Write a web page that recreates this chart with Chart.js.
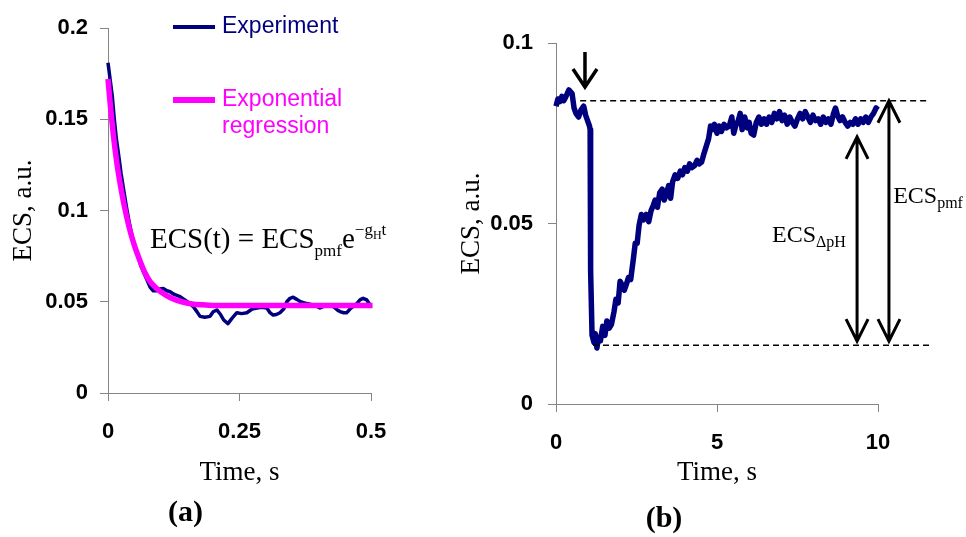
<!DOCTYPE html>
<html>
<head>
<meta charset="utf-8">
<script src="https://cdn.jsdelivr.net/npm/chart.js@4.4.1/dist/chart.umd.min.js"></script>
<style>
  html, body { margin: 0; padding: 0; background: #fff; }
  #wrap { position: relative; width: 966px; height: 537px; }
  canvas { position: absolute; top: 0; }
  #chartA { left: 0; }
  #chartB { left: 450px; }
</style>
</head>
<body>
<div id="wrap">
  <canvas id="chartA" width="450" height="537"></canvas>
  <canvas id="chartB" width="516" height="537"></canvas>
</div>
<script>
// ---- panel (a): fast ECS decay, experiment + exponential fit ----
const timeA = [0, 0.004, 0.008, 0.012, 0.016, 0.02, 0.025, 0.03, 0.035, 0.04,
  0.045, 0.05, 0.056, 0.062, 0.068, 0.074, 0.08, 0.086, 0.092, 0.098,
  0.105, 0.112, 0.118, 0.126, 0.137, 0.146, 0.156, 0.163, 0.169, 0.175,
  0.184, 0.194, 0.2, 0.207, 0.214, 0.22, 0.228, 0.236, 0.245, 0.254,
  0.264, 0.274, 0.283, 0.292, 0.302, 0.308, 0.314, 0.32, 0.327, 0.334,
  0.34, 0.346, 0.352, 0.359, 0.366, 0.372, 0.378, 0.386, 0.394, 0.403,
  0.41, 0.416, 0.422, 0.43, 0.436, 0.441, 0.448, 0.454, 0.46, 0.466,
  0.473, 0.479, 0.485, 0.492, 0.498, 0.5];
const expA = [0.181, 0.172, 0.163, 0.150, 0.139, 0.131, 0.120, 0.111, 0.102, 0.094,
  0.087, 0.081, 0.076, 0.070, 0.066, 0.062, 0.058, 0.056, 0.056, 0.057,
  0.0573, 0.056, 0.0555, 0.054, 0.0528, 0.051, 0.049, 0.047, 0.0446, 0.042,
  0.0415, 0.042, 0.0445, 0.0455, 0.043, 0.040, 0.038, 0.041, 0.044, 0.0435,
  0.044, 0.046, 0.0466, 0.047, 0.0466, 0.044, 0.0427, 0.043, 0.044, 0.046,
  0.050, 0.0519, 0.0525, 0.0513, 0.050, 0.0495, 0.049, 0.0485, 0.048, 0.0466,
  0.0475, 0.0484, 0.0484, 0.047, 0.0455, 0.0446, 0.044, 0.044, 0.046, 0.0475,
  0.049, 0.051, 0.0519, 0.051, 0.0484, 0.048];
const fitTimeA = [0, 0.005, 0.01, 0.015, 0.02, 0.03, 0.04, 0.05, 0.06, 0.07,
  0.08, 0.09, 0.1, 0.12, 0.14, 0.16, 0.18, 0.2, 0.25, 0.3, 0.35, 0.4, 0.45, 0.503];
const fitA = [0.172, 0.156, 0.142, 0.130, 0.120, 0.104, 0.091, 0.081, 0.073, 0.066,
  0.061, 0.058, 0.0555, 0.052, 0.050, 0.0488, 0.0483, 0.048, 0.048, 0.048, 0.048, 0.048, 0.048, 0.048];
const xTicksA = [0, 0.25, 0.5];
const yTicksA = [0, 0.05, 0.1, 0.15, 0.2];

// ---- panel (b): ECS relaxation after light-off ----
const timeB = [0, 0.06, 0.12, 0.18, 0.24, 0.30, 0.40, 0.50, 0.56, 0.62,
  0.70, 0.78, 0.86, 0.92, 0.98, 1.04, 1.06, 1.07, 1.08, 1.12,
  1.18, 1.22, 1.27, 1.32, 1.38, 1.45, 1.52, 1.58, 1.65, 1.72,
  1.80, 1.86, 1.93, 1.99, 2.05, 2.12, 2.18, 2.25, 2.32, 2.40,
  2.46, 2.52, 2.58, 2.65, 2.72, 2.80, 2.88, 2.95, 3.02, 3.08,
  3.15, 3.22, 3.30, 3.36, 3.42, 3.50, 3.56, 3.62, 3.70, 3.78,
  3.86, 3.93, 4.00, 4.08, 4.15, 4.22, 4.30, 4.38, 4.45, 4.52,
  4.60, 4.67, 4.74, 4.80, 4.86, 4.92, 5.00, 5.06, 5.14, 5.22,
  5.30, 5.38, 5.46, 5.52, 5.58, 5.66, 5.72, 5.78, 5.86, 5.94,
  6.00, 6.06, 6.14, 6.22, 6.30, 6.38, 6.46, 6.54, 6.62, 6.70,
  6.78, 6.86, 6.94, 7.02, 7.10, 7.18, 7.26, 7.34, 7.42, 7.50,
  7.58, 7.66, 7.74, 7.82, 7.90, 7.98, 8.06, 8.14, 8.22, 8.30,
  8.38, 8.46, 8.54, 8.62, 8.68, 8.74, 8.82, 8.90, 8.98, 9.06,
  9.14, 9.22, 9.30, 9.38, 9.46, 9.54, 9.62, 9.70, 9.78, 9.86,
  9.94, 10.0];
const expB = [0.0825, 0.0845, 0.0838, 0.0852, 0.0840, 0.0850, 0.0870, 0.0860, 0.0820, 0.0805,
  0.0795, 0.0815, 0.0825, 0.0800, 0.0785, 0.0770, 0.0760, 0.0400, 0.0370, 0.0190,
  0.0170, 0.0195, 0.0155, 0.0185, 0.0175, 0.0215, 0.0190, 0.0230, 0.0210, 0.0220,
  0.0255, 0.0290, 0.0280, 0.0340, 0.0330, 0.0315, 0.0330, 0.0350, 0.0345, 0.0400,
  0.0445, 0.0445, 0.0495, 0.0525, 0.0510, 0.0525, 0.0505, 0.0535, 0.0550, 0.0565,
  0.0545, 0.0585, 0.0595, 0.0565, 0.0580, 0.0605, 0.0570, 0.0615, 0.0635, 0.0625,
  0.0645, 0.0635, 0.0655, 0.0645, 0.0665, 0.0655, 0.0660, 0.0675, 0.0665, 0.0670,
  0.0695, 0.0715, 0.0735, 0.0770, 0.0760, 0.0775, 0.0750, 0.0770, 0.0755, 0.0775,
  0.0765, 0.0770, 0.0795, 0.0750, 0.0770, 0.0785, 0.0805, 0.0760, 0.0795, 0.0765,
  0.0780, 0.0750, 0.0745, 0.0780, 0.0795, 0.0775, 0.0790, 0.0775, 0.0795, 0.0780,
  0.0805, 0.0790, 0.0810, 0.0785, 0.0800, 0.0775, 0.0795, 0.0780, 0.0770, 0.0790,
  0.0805, 0.0790, 0.0810, 0.0795, 0.0780, 0.0800, 0.0785, 0.0790, 0.0775, 0.0795,
  0.0780, 0.0790, 0.0775, 0.0805, 0.0820, 0.0800, 0.0785, 0.0795, 0.0780, 0.0770,
  0.0780, 0.0775, 0.0790, 0.0775, 0.0790, 0.0780, 0.0795, 0.0780, 0.0795, 0.0805,
  0.0820, 0.0815];
const xTicksB = [0, 5, 10];
const yTicksB = [0, 0.05, 0.1];

// annotation levels in panel (b), data units
const levelPmf = 0.084;   // upper dashed line (light-on level)
const levelMin = 0.0163;  // lower dashed line (minimum)
const levelDpH = 0.074;   // top of the ECS_dpH arrow
const tLightOff = 0.9;    // the small down arrow

const serif = '"Liberation Serif", "Times New Roman", serif';
const sans = '"Liberation Sans", Arial, sans-serif';
const navy = '#00007f';
const magenta = '#ff00ff';
const axisGray = '#858585';

function pts(xs, ys) {
  return xs.map((x, i) => ({ x: x, y: ys[i] }));
}

function axisCommon(ticks, min, max) {
  return {
    type: 'linear', min: min, max: max,
    afterBuildTicks: s => { s.ticks = ticks.map(v => ({ value: v })); },
    border: { color: axisGray, width: 1 },
    grid: { drawOnChartArea: false, drawTicks: true, tickLength: 8, color: axisGray },
    ticks: { color: '#000', font: { family: sans, size: 22, weight: 'bold' },
      callback: v => String(v) }
  };
}

// draw a row of text pieces with different sizes / baseline shifts
function drawRuns(ctx, x, y, runs) {
  ctx.textBaseline = 'alphabetic';
  ctx.textAlign = 'left';
  runs.forEach(r => {
    ctx.font = r.font;
    ctx.fillText(r.text, x, y + (r.dy || 0));
    x += ctx.measureText(r.text).width;
  });
}

const panelA = {
  id: 'panelA',
  afterDraw(chart) {
    const ctx = chart.ctx;
    const a = chart.chartArea;
    const xs = chart.scales.x, ys = chart.scales.y;
    ctx.save();
    // legend
    const rows = [
      { ds: 0, y: a.top - 1, lines: ['Experiment'], w: 4 },
      { ds: 1, y: a.top + 72, lines: ['Exponential', 'regression'], w: 6 }
    ];
    rows.forEach(r => {
      const ds = chart.data.datasets[r.ds];
      ctx.strokeStyle = ds.borderColor;
      ctx.lineWidth = r.w;
      ctx.beginPath();
      ctx.moveTo(a.left + 65, r.y);
      ctx.lineTo(a.left + 107, r.y);
      ctx.stroke();
      ctx.fillStyle = ds.borderColor;
      ctx.font = '23px ' + sans;
      ctx.textBaseline = 'middle';
      ctx.textAlign = 'left';
      r.lines.forEach((t, i) => ctx.fillText(t, a.left + 114, r.y + i * 27));
    });
    // equation
    ctx.fillStyle = '#000';
    const big = '29px ' + serif, small = '17px ' + serif, tiny = '12px ' + serif;
    drawRuns(ctx, xs.getPixelForValue(0.0798), ys.getPixelForValue(0.0795), [
      { text: 'ECS(t) = ECS', font: big },
      { text: 'pmf', font: small, dy: 8 },
      { text: 'e', font: big },
      { text: '\u2212g', font: small, dy: -13 },
      { text: 'H', font: tiny, dy: -9 },
      { text: 't', font: small, dy: -13 }
    ]);
    ctx.restore();
  }
};

function doubleArrow(ctx, x, y1, y2) {
  ctx.beginPath();
  ctx.moveTo(x, y1); ctx.lineTo(x, y2);
  ctx.moveTo(x - 11, y1 + 22); ctx.lineTo(x, y1); ctx.lineTo(x + 11, y1 + 22);
  ctx.moveTo(x - 11, y2 - 22); ctx.lineTo(x, y2); ctx.lineTo(x + 11, y2 - 22);
  ctx.stroke();
}

const panelB = {
  id: 'panelB',
  afterDraw(chart) {
    const ctx = chart.ctx;
    const xs = chart.scales.x, ys = chart.scales.y;
    const yTop = ys.getPixelForValue(levelPmf);
    const yMin = ys.getPixelForValue(levelMin);
    const yDpH = ys.getPixelForValue(levelDpH);
    ctx.save();
    ctx.strokeStyle = '#000';
    // dashed reference levels
    ctx.lineWidth = 1.5;
    ctx.setLineDash([6, 4]);
    ctx.beginPath();
    ctx.moveTo(xs.getPixelForValue(0.75), yTop);
    ctx.lineTo(xs.getPixelForValue(11.6), yTop);
    ctx.moveTo(xs.getPixelForValue(1.15), yMin);
    ctx.lineTo(xs.getPixelForValue(11.6), yMin);
    ctx.stroke();
    ctx.setLineDash([]);
    // double arrows
    ctx.lineWidth = 3;
    doubleArrow(ctx, xs.getPixelForValue(9.35), yDpH, yMin - 4);
    doubleArrow(ctx, xs.getPixelForValue(10.34), yTop, yMin - 4);
    // light-off arrow
    const xa = xs.getPixelForValue(tLightOff);
    const ya1 = ys.getPixelForValue(0.0975), ya2 = ys.getPixelForValue(0.0878);
    ctx.lineWidth = 3.5;
    ctx.beginPath();
    ctx.moveTo(xa, ya1); ctx.lineTo(xa, ya2 - 2);
    ctx.moveTo(xa - 12, ya2 - 18); ctx.lineTo(xa, ya2); ctx.lineTo(xa + 12, ya2 - 18);
    ctx.stroke();
    // labels
    ctx.fillStyle = '#000';
    const big = '24px ' + serif, small = '16px ' + serif;
    drawRuns(ctx, xs.getPixelForValue(6.71), ys.getPixelForValue(0.0449), [
      { text: 'ECS', font: big }, { text: '\u0394pH', font: small, dy: 5 }
    ]);
    drawRuns(ctx, xs.getPixelForValue(10.47), ys.getPixelForValue(0.0557), [
      { text: 'ECS', font: big }, { text: 'pmf', font: small, dy: 5 }
    ]);
    ctx.restore();
  }
};

// chart (a)
const xA = axisCommon(xTicksA, 0, 0.5);
xA.afterFit = s => { s.height = 98; };
xA.ticks.padding = 18;
xA.title = { display: true, text: 'Time, s', color: '#000', font: { family: serif, size: 27 }, padding: { top: 0, bottom: 2 } };
const yA = axisCommon(yTicksA, 0, 0.2);
yA.afterFit = s => { s.width = 108; };
yA.ticks.padding = 12;
yA.title = { display: true, text: 'ECS, a.u.', color: '#000', font: { family: serif, size: 27 }, padding: { top: 8, bottom: 0 } };

new Chart(document.getElementById('chartA'), {
  type: 'line',
  data: {
    datasets: [
      { label: 'Experiment', data: pts(timeA, expA), borderColor: navy, borderWidth: 3.5,
        borderJoinStyle: 'round', pointRadius: 0, tension: 0, clip: false, order: 2 },
      { label: 'Exponential regression', data: pts(fitTimeA, fitA), borderColor: magenta, borderWidth: 5.5,
        pointRadius: 0, tension: 0.3, clip: false, order: 1 }
    ]
  },
  options: {
    responsive: false, animation: false, devicePixelRatio: 1,
    layout: { padding: { top: 28, right: 79, bottom: 0, left: 0 } },
    scales: { x: xA, y: yA },
    plugins: {
      legend: { display: false }, tooltip: { enabled: false },
      title: { display: true, position: 'bottom', text: '(a)', color: '#000',
        font: { family: serif, size: 30, weight: 'bold' }, padding: { top: 4, bottom: 6 } }
    }
  },
  plugins: [panelA]
});

// chart (b)
const xB = axisCommon(xTicksB, 0, 10);
xB.afterFit = s => { s.height = 87; };
xB.ticks.padding = 18;
xB.title = { display: true, text: 'Time, s', color: '#000', font: { family: serif, size: 27 }, padding: { top: 0, bottom: 2 } };
const yB = axisCommon(yTicksB, 0, 0.1);
yB.afterFit = s => { s.width = 106; };
yB.ticks.padding = 15;
yB.title = { display: true, text: 'ECS, a.u.', color: '#000', font: { family: serif, size: 27 }, padding: { top: 6, bottom: 0 } };

new Chart(document.getElementById('chartB'), {
  type: 'line',
  data: {
    datasets: [
      { label: 'ECS', data: pts(timeB, expB), borderColor: navy, borderWidth: 5.5,
        borderJoinStyle: 'round', pointRadius: 0, tension: 0, clip: false }
    ]
  },
  options: {
    responsive: false, animation: false, devicePixelRatio: 1,
    layout: { padding: { top: 43, right: 88, bottom: 0, left: 0 } },
    scales: { x: xB, y: yB },
    plugins: {
      legend: { display: false }, tooltip: { enabled: false },
      title: { display: true, position: 'bottom', text: '(b)', color: '#000',
        font: { family: serif, size: 30, weight: 'bold' }, padding: { top: 10, bottom: 0 } }
    }
  },
  plugins: [panelB]
});
</script>
</body>
</html>
